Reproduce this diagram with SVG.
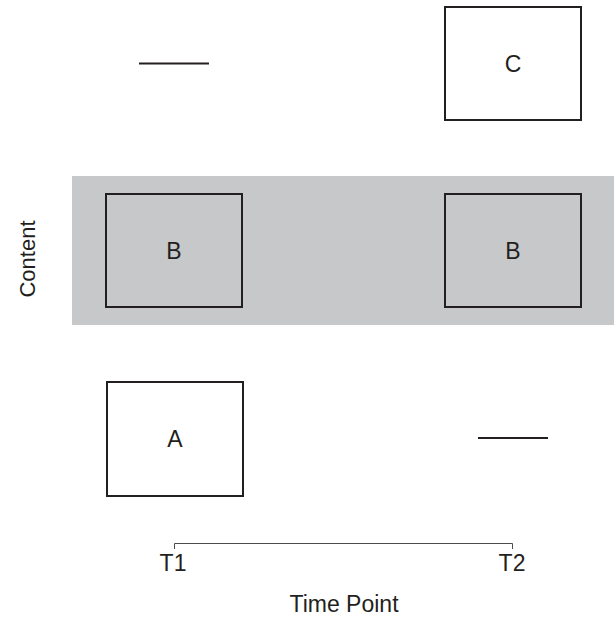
<svg xmlns="http://www.w3.org/2000/svg" width="614" height="619" viewBox="0 0 614 619">
  <style>
    .box { fill: none; stroke: #231f20; stroke-width: 2; }
    .dash { stroke: #231f20; stroke-width: 2; }
    .lbl { font-family: "Liberation Sans", Arial, sans-serif; font-size: 23px; fill: #231f20; text-anchor: middle; }
    .axis { fill: none; stroke: #4d4d4d; stroke-width: 1; }
  </style>
  <rect width="614" height="619" fill="#ffffff"/>
  <!-- shared-content band -->
  <rect id="band" x="72" y="176" width="542" height="149" fill="#c7c8ca"/>

  <g id="placeholder-t1">
    <line class="dash" x1="139" y1="63.5" x2="209" y2="63.5"/>
  </g>
  <g id="node-c">
    <rect class="box" x="445" y="7" width="136" height="113"/>
    <text class="lbl" x="513" y="72">C</text>
  </g>
  <g id="node-b1">
    <rect class="box" x="106" y="194" width="136" height="113"/>
    <text class="lbl" x="174" y="259">B</text>
  </g>
  <g id="node-b2">
    <rect class="box" x="445" y="194" width="136" height="113"/>
    <text class="lbl" x="513" y="259">B</text>
  </g>
  <g id="node-a">
    <rect class="box" x="107" y="382" width="136" height="114"/>
    <text class="lbl" x="175" y="447">A</text>
  </g>
  <g id="placeholder-t2">
    <line class="dash" x1="478" y1="438" x2="548" y2="438"/>
  </g>

  <g id="connectors">
    <path class="axis" d="M174.5 549 V543.5 H512.5 V549"/>
  </g>

  <text class="lbl" x="173" y="571">T1</text>
  <text class="lbl" x="512" y="571">T2</text>
  <text class="lbl" x="344" y="612">Time Point</text>
  <text class="lbl" font-size="22" transform="translate(35 259) rotate(-90)" style="font-size:22px">Content</text>
</svg>
